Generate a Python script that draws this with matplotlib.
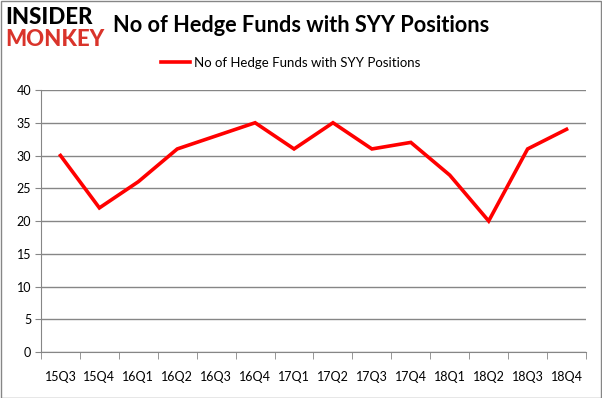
import numpy as np
import matplotlib.pyplot as plt
from matplotlib.patches import Rectangle

QUARTERS = ["15Q3", "15Q4", "16Q1", "16Q2", "16Q3", "16Q4", "17Q1",
            "17Q2", "17Q3", "17Q4", "18Q1", "18Q2", "18Q3", "18Q4"]
FUNDS = [30, 22, 26, 31, 33, 35, 31, 35, 31, 32, 27, 20, 31, 34]
Y_TICKS = [0, 5, 10, 15, 20, 25, 30, 35, 40]
SERIES_NAME = "No of Hedge Funds with SYY Positions"

plt.rcParams['font.family'] = ['Lato', 'DejaVu Sans']

fig = plt.figure(figsize=(6.02, 3.98), dpi=100)
ax = fig.add_axes([41/602, 1 - 352/398, 545/602, 262/398])

x = np.arange(len(QUARTERS))
ax.plot(x, FUNDS, color="#ff0000", linewidth=2.6, label=SERIES_NAME,
        solid_joinstyle="miter")

ax.set_xlim(-0.5, len(QUARTERS) - 0.5)
ax.set_ylim(0, 40)
ax.set_yticks(Y_TICKS)
ax.yaxis.grid(True, color="#868686", linewidth=1)
ax.set_axisbelow(True)

ax.set_xticks(x)
ax.set_xticklabels(QUARTERS, fontsize=9)
ax.tick_params(axis="x", length=0, pad=14)
ax.set_xticks(np.arange(len(QUARTERS) + 1) - 0.5, minor=True)
ax.tick_params(axis="x", which="minor", length=5, color="#868686")
ax.tick_params(axis="y", labelsize=9, length=4, color="#868686", pad=3)

for s in ["top", "right"]:
    ax.spines[s].set_visible(False)
for s in ["left", "bottom"]:
    ax.spines[s].set_color("#868686")

leg = fig.legend(loc="center", bbox_to_anchor=(0.483, 1 - 63/398), frameon=False,
                 fontsize=9.5, handlelength=2.2, handletextpad=0.3)

fig.text(113/602, 1 - 26/398, SERIES_NAME, fontsize=15.7, fontweight="bold",
         va="center", ha="left")

# logo
fig.text(5/602, 1 - 18/398, "INSIDER", fontsize=16, fontweight="black",
         color="black", va="center", ha="left")
fig.text(5/602, 1 - 39/398, "MONKEY", fontsize=16, fontweight="black",
         color="#d9342b", va="center", ha="left")

fig.patches.append(Rectangle((0.5/602, 0.5/398), 1 - 1.5/602, 1 - 1.5/398,
                             transform=fig.transFigure, fill=False,
                             edgecolor="#868686", linewidth=1))

fig.savefig("out.png", dpi=100)
